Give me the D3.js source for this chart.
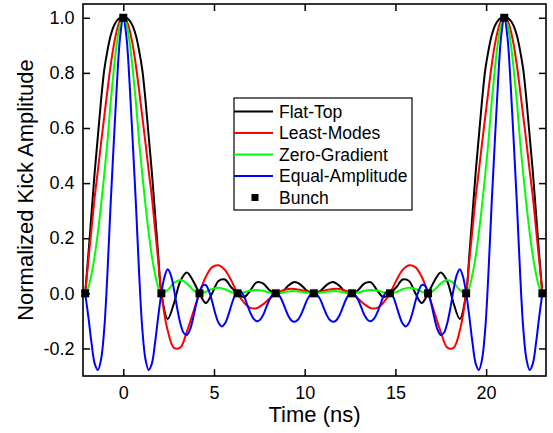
<!DOCTYPE html>
<html>
<head>
<meta charset="utf-8">
<script src="https://cdn.jsdelivr.net/npm/d3@7"></script>
<style>
  html, body { margin: 0; padding: 0; background: #fff; }
  svg { display: block; font-family: "Liberation Sans", Arial, sans-serif; }
</style>
</head>
<body>
<script>
// time grid (ns) shared by the three smoother waveforms
const timeMain = [
  -2.1, -1.925, -1.75, -1.575, -1.4, -1.225, -1.05, -0.875, -0.7, -0.525, -0.35, -0.175,
  0, 0.175, 0.35, 0.525, 0.7, 0.875, 1.05, 1.225, 1.4, 1.575, 1.75, 1.925, 2.1,
  2.45, 2.8, 3.15, 3.5, 3.85, 4.2, 4.55, 4.9, 5.25, 5.6, 5.95, 6.3, 6.65, 7, 7.35, 7.7, 8.05, 8.4, 8.75, 9.1, 9.45, 9.8, 10.15, 10.5,
  10.85, 11.2, 11.55, 11.9, 12.25, 12.6, 12.95, 13.3, 13.65, 14, 14.35, 14.7, 15.05, 15.4, 15.75, 16.1, 16.45, 16.8, 17.15, 17.5, 17.85, 18.2, 18.55, 18.9,
  19.075, 19.25, 19.425, 19.6, 19.775, 19.95, 20.125, 20.3, 20.475, 20.65, 20.825, 21,
  21.175, 21.35, 21.525, 21.7, 21.875, 22.05, 22.225, 22.4, 22.575, 22.75, 22.925, 23.1
];

const flatTop = [
  0, 0.14, 0.29, 0.44, 0.57, 0.70, 0.81, 0.88, 0.935, 0.97, 0.99, 0.999,
  1, 0.999, 0.99, 0.97, 0.935, 0.88, 0.81, 0.70, 0.57, 0.44, 0.29, 0.14, 0,
  -0.093, -0.035, 0.045, 0.076, 0.045, 0, -0.035, 0, 0.045, 0.05, 0.022, 0, -0.014, 0.01, 0.04, 0.036, 0.012, -0.002, 0.004, 0.028, 0.041, 0.03, 0.008, 0,
  0.008, 0.03, 0.041, 0.028, 0.004, -0.002, 0.012, 0.036, 0.04, 0.01, -0.014, 0, 0.022, 0.05, 0.045, 0, -0.035, 0, 0.045, 0.076, 0.045, -0.035, -0.093, 0,
  0.14, 0.29, 0.44, 0.57, 0.70, 0.81, 0.88, 0.935, 0.97, 0.99, 0.999, 1,
  0.999, 0.99, 0.97, 0.935, 0.88, 0.81, 0.70, 0.57, 0.44, 0.29, 0.14, 0
];

const leastModes = [
  0, 0.12, 0.235, 0.35, 0.445, 0.545, 0.64, 0.735, 0.825, 0.90, 0.955, 0.99,
  1, 0.99, 0.955, 0.90, 0.825, 0.735, 0.64, 0.545, 0.445, 0.35, 0.235, 0.12, 0,
  -0.135, -0.198, -0.196, -0.14, -0.07, 0, 0.06, 0.095, 0.102, 0.085, 0.047, 0, -0.033, -0.053, -0.054, -0.04, -0.02, 0, 0.01, 0.016, 0.016, 0.012, 0.005, 0,
  0.005, 0.012, 0.016, 0.016, 0.01, 0, -0.02, -0.04, -0.054, -0.053, -0.033, 0, 0.047, 0.085, 0.102, 0.095, 0.06, 0, -0.07, -0.14, -0.196, -0.198, -0.135, 0,
  0.12, 0.235, 0.35, 0.445, 0.545, 0.64, 0.735, 0.825, 0.90, 0.955, 0.99, 1,
  0.99, 0.955, 0.90, 0.825, 0.735, 0.64, 0.545, 0.445, 0.35, 0.235, 0.12, 0
];

const zeroGradient = [
  0, 0.022, 0.07, 0.135, 0.22, 0.32, 0.43, 0.55, 0.69, 0.81, 0.91, 0.975,
  1, 0.975, 0.91, 0.81, 0.69, 0.55, 0.43, 0.32, 0.22, 0.135, 0.07, 0.022, 0,
  0.012, 0.038, 0.048, 0.036, 0.012, 0, 0.006, 0.016, 0.02, 0.015, 0.005, 0, 0.004, 0.01, 0.012, 0.009, 0.003, 0, 0.003, 0.007, 0.008, 0.006, 0.002, 0,
  0.002, 0.006, 0.008, 0.007, 0.003, 0, 0.003, 0.009, 0.012, 0.01, 0.004, 0, 0.005, 0.015, 0.02, 0.016, 0.006, 0, 0.012, 0.036, 0.048, 0.038, 0.012, 0,
  0.022, 0.07, 0.135, 0.22, 0.32, 0.43, 0.55, 0.69, 0.81, 0.91, 0.975, 1,
  0.975, 0.91, 0.81, 0.69, 0.55, 0.43, 0.32, 0.22, 0.135, 0.07, 0.022, 0
];

// finer grid for the equal-amplitude wave, it wiggles faster
const timeFine = [
  -2.1, -1.925, -1.75, -1.575, -1.4, -1.225, -1.05, -0.875, -0.7, -0.525, -0.35, -0.175,
  0, 0.175, 0.35, 0.525, 0.7, 0.875, 1.05, 1.225, 1.4, 1.575, 1.75, 1.925,
  2.1, 2.275, 2.45, 2.625, 2.8, 2.975, 3.15, 3.325, 3.5, 3.675, 3.85, 4.025,
  4.2, 4.375, 4.55, 4.725, 4.9, 5.075, 5.25, 5.425, 5.6, 5.775, 5.95, 6.125,
  6.3, 6.475, 6.65, 6.825, 7, 7.175, 7.35, 7.525, 7.7, 7.875, 8.05, 8.225,
  8.4, 8.575, 8.75, 8.925, 9.1, 9.275, 9.45, 9.625, 9.8, 9.975, 10.15, 10.325,
  10.5, 10.675, 10.85, 11.025, 11.2, 11.375, 11.55, 11.725, 11.9, 12.075, 12.25, 12.425,
  12.6, 12.775, 12.95, 13.125, 13.3, 13.475, 13.65, 13.825, 14, 14.175, 14.35, 14.525,
  14.7, 14.875, 15.05, 15.225, 15.4, 15.575, 15.75, 15.925, 16.1, 16.275, 16.45, 16.625,
  16.8, 16.975, 17.15, 17.325, 17.5, 17.675, 17.85, 18.025, 18.2, 18.375, 18.55, 18.725,
  18.9, 19.075, 19.25, 19.425, 19.6, 19.775, 19.95, 20.125, 20.3, 20.475, 20.65, 20.825,
  21, 21.175, 21.35, 21.525, 21.7, 21.875, 22.05, 22.225, 22.4, 22.575, 22.75, 22.925, 23.1
];

const equalAmplitude = [
  0, -0.085, -0.18, -0.255, -0.278, -0.24, -0.13, 0.07, 0.32, 0.545, 0.76, 0.93,
  1, 0.93, 0.76, 0.545, 0.32, 0.07, -0.13, -0.24, -0.278, -0.255, -0.18, -0.085,
  0, 0.06, 0.087, 0.065, 0.012, -0.055, -0.11, -0.143, -0.151, -0.132, -0.09, -0.037,
  0.005, 0.028, 0.03, 0.008, -0.03, -0.074, -0.107, -0.12, -0.11, -0.082, -0.045, -0.012,
  0.004, 0.006, -0.01, -0.04, -0.07, -0.092, -0.101, -0.097, -0.08, -0.052, -0.024, -0.005,
  0, -0.006, -0.026, -0.055, -0.082, -0.099, -0.103, -0.096, -0.077, -0.049, -0.021, -0.005,
  0, -0.005, -0.021, -0.049, -0.077, -0.096, -0.103, -0.099, -0.082, -0.055, -0.026, -0.006,
  0, -0.005, -0.024, -0.052, -0.08, -0.097, -0.101, -0.092, -0.07, -0.04, -0.01, 0.006,
  0.004, -0.012, -0.045, -0.082, -0.11, -0.12, -0.107, -0.074, -0.03, 0.008, 0.03, 0.028,
  0.005, -0.037, -0.09, -0.132, -0.151, -0.143, -0.11, -0.055, 0.012, 0.065, 0.087, 0.06,
  0, -0.085, -0.18, -0.255, -0.278, -0.24, -0.13, 0.07, 0.32, 0.545, 0.76, 0.93,
  1, 0.93, 0.76, 0.545, 0.32, 0.07, -0.13, -0.24, -0.278, -0.255, -0.18, -0.085, 0
];

const bunchTimes = [-2.1, 0, 2.1, 4.2, 6.3, 8.4, 10.5, 12.6, 14.7, 16.8, 18.9, 21, 23.1];
const bunchValues = [0, 1, 0, 0, 0, 0, 0, 0, 0, 0, 0, 1, 0];

const seriesNames = ['Flat-Top', 'Least-Modes', 'Zero-Gradient', 'Equal-Amplitude'];
const seriesColors = ['#000000', '#ff0000', '#00ff00', '#0000ff'];

const xTicks = [0, 5, 10, 15, 20];
const yTicks = [-0.2, 0, 0.2, 0.4, 0.6, 0.8, 1.0];

const W = 553, H = 433;
const plot = { left: 83, right: 546, top: 4, bottom: 376 };

const svg = d3.select('body').append('svg')
  .attr('width', W)
  .attr('height', H);

const x = d3.scaleLinear().domain([-2.22, 23.3]).range([plot.left, plot.right]);
const y = d3.scaleLinear().domain([-0.3, 1.05]).range([plot.bottom, plot.top]);

svg.append('clipPath').attr('id', 'plotclip')
  .append('rect')
  .attr('x', plot.left).attr('y', plot.top)
  .attr('width', plot.right - plot.left).attr('height', plot.bottom - plot.top);

const series = [
  d3.zip(timeMain, flatTop),
  d3.zip(timeMain, leastModes),
  d3.zip(timeMain, zeroGradient),
  d3.zip(timeFine, equalAmplitude)
];

const line = d3.line()
  .x(d => x(d[0]))
  .y(d => y(d[1]))
  .curve(d3.curveCatmullRom.alpha(0.5));

svg.append('g')
  .attr('clip-path', 'url(#plotclip)')
  .selectAll('path')
  .data(series)
  .join('path')
  .attr('d', line)
  .attr('fill', 'none')
  .attr('stroke', (d, i) => seriesColors[i])
  .attr('stroke-width', 2);

// axes, ticks point inward
const fmt = d => (Math.abs(d) < 1e-9 ? 0 : d).toFixed(1);

const styleAxis = g => {
  g.select('.domain').remove();
  g.selectAll('.tick line').attr('stroke', '#000').attr('stroke-width', 1.5);
  g.selectAll('.tick text')
    .attr('fill', '#000')
    .style('font-size', '18px')
    .style('font-family', '"Liberation Sans", Arial, sans-serif');
};

svg.append('g')
  .attr('transform', `translate(0,${plot.bottom})`)
  .call(d3.axisBottom(x).tickValues(xTicks).tickSizeInner(-7).tickSizeOuter(0).tickPadding(10.5))
  .call(styleAxis);

svg.append('g')
  .attr('transform', `translate(0,${plot.top})`)
  .call(d3.axisTop(x).tickValues(xTicks).tickSizeInner(-7).tickSizeOuter(0).tickFormat(''))
  .call(styleAxis);

svg.append('g')
  .attr('transform', `translate(${plot.left},0)`)
  .call(d3.axisLeft(y).tickValues(yTicks).tickSizeInner(-7).tickSizeOuter(0).tickPadding(8.5).tickFormat(fmt))
  .call(styleAxis);

svg.append('g')
  .attr('transform', `translate(${plot.right},0)`)
  .call(d3.axisRight(y).tickValues(yTicks).tickSizeInner(-7).tickSizeOuter(0).tickFormat(''))
  .call(styleAxis);

svg.append('rect')
  .attr('x', plot.left).attr('y', plot.top)
  .attr('width', plot.right - plot.left).attr('height', plot.bottom - plot.top)
  .attr('fill', 'none')
  .attr('stroke', '#000')
  .attr('stroke-width', 1.6);

// bunch markers
const sq = 8;
svg.append('g')
  .selectAll('rect')
  .data(d3.zip(bunchTimes, bunchValues))
  .join('rect')
  .attr('x', d => x(d[0]) - sq / 2)
  .attr('y', d => y(d[1]) - sq / 2)
  .attr('width', sq)
  .attr('height', sq)
  .attr('fill', '#000');

// axis titles
svg.append('text')
  .attr('x', (plot.left + plot.right) / 2)
  .attr('y', 422)
  .attr('text-anchor', 'middle')
  .style('font-size', '22px')
  .text('Time (ns)');

svg.append('text')
  .attr('transform', `translate(33,${(plot.top + plot.bottom) / 2}) rotate(-90)`)
  .attr('text-anchor', 'middle')
  .style('font-size', '22px')
  .text('Normalized Kick Amplitude');

// legend
const lg = svg.append('g').attr('transform', 'translate(234,98)');
lg.append('rect')
  .attr('width', 178).attr('height', 112)
  .attr('fill', '#fff')
  .attr('stroke', '#000')
  .attr('stroke-width', 1.2);

const rowY = i => 13.5 + i * 21.5;
const legendNames = seriesNames.concat(['Bunch']);

lg.selectAll('line')
  .data(seriesNames)
  .join('line')
  .attr('x1', 0).attr('x2', 39)
  .attr('y1', (d, i) => rowY(i)).attr('y2', (d, i) => rowY(i))
  .attr('stroke', (d, i) => seriesColors[i])
  .attr('stroke-width', 2);

lg.append('rect')
  .attr('x', 21 - 3.5).attr('y', rowY(4) - 3.5)
  .attr('width', 7).attr('height', 7)
  .attr('fill', '#000');

lg.selectAll('text')
  .data(legendNames)
  .join('text')
  .attr('x', 45)
  .attr('y', (d, i) => rowY(i))
  .attr('dy', '0.35em')
  .style('font-size', '17.5px')
  .text(d => d);
</script>
</body>
</html>
